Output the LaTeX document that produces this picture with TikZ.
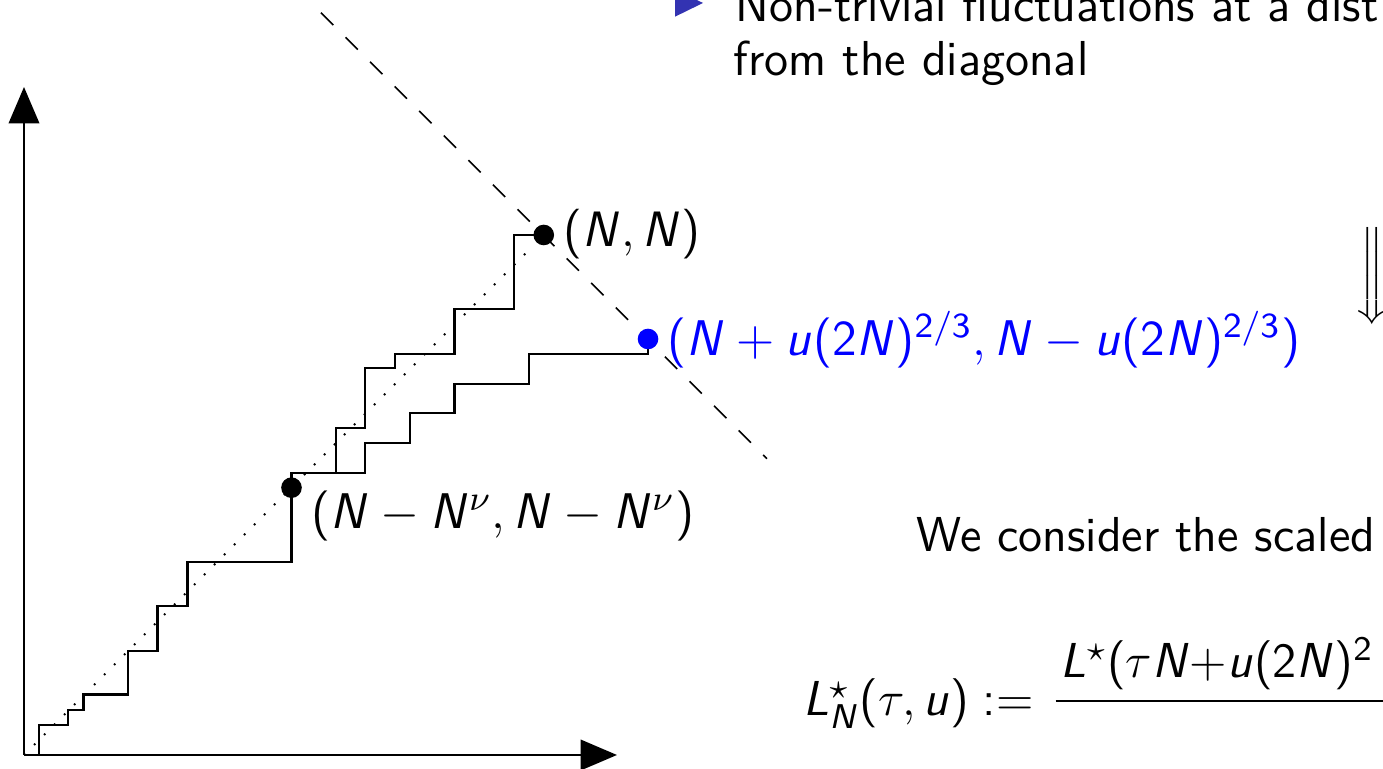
\RequirePackage{fix-cm}
\documentclass[tikz,border=0pt]{standalone}
\usetikzlibrary{arrows.meta}
\DeclareSymbolFont{sfletters}{OT1}{cmss}{m}{sl}
\DeclareSymbolFont{sfops}{OT1}{cmss}{m}{n}
\DeclareMathSymbol{N}{\mathalpha}{sfletters}{`N}
\DeclareMathSymbol{L}{\mathalpha}{sfletters}{`L}
\DeclareMathSymbol{u}{\mathalpha}{sfletters}{`u}
\DeclareMathSymbol{2}{\mathalpha}{sfops}{`2}
\DeclareMathSymbol{3}{\mathalpha}{sfops}{`3}
\DeclareMathSymbol{(}{\mathopen}{sfops}{`(}
\DeclareMathSymbol{)}{\mathclose}{sfops}{`)}
\DeclareMathSymbol{+}{\mathbin}{sfops}{`+}
\DeclareMathSymbol{=}{\mathrel}{sfops}{`=}
\DeclareMathSymbol{:}{\mathrel}{sfops}{`:}
\DeclareMathSymbol{/}{\mathord}{sfops}{`/}
\definecolor{struct}{RGB}{51,51,178}
\begin{document}
\begin{tikzpicture}[x=0.2475pt,y=-0.2475pt,
  stair/.style={line width=0.55pt,line join=miter},
  axis/.style={line width=0.65pt,-{Triangle[length=9pt,width=7.5pt]}},
  dot/.style={circle,fill=black,inner sep=0pt,minimum size=5.1pt},
  lbl/.style={inner sep=0pt,anchor=base west,font=\fontsize{12.3}{15}\selectfont},
  lblwide/.style={lbl,font=\fontsize{12.4}{15}\selectfont},
  body/.style={inner sep=0pt,anchor=base west,font=\fontsize{12.15}{14.6}\selectfont\sffamily}]
\useasboundingbox (0,0) rectangle (1383,769);
\clip (0,0) rectangle (1383,769);
% key points
\coordinate (O) at (24,755);
\coordinate (Ytip) at (24,87);
\coordinate (Xtip) at (617,755);
\coordinate (pNN) at (543.75,235);
\coordinate (pNnu) at (291.5,487.7);
\coordinate (pB) at (648,339);
\coordinate (S) at (38.8,755);
\coordinate (J) at (335.7,472.9);
\coordinate (dA) at (321,12.7);
\coordinate (dB) at (767,458.7);
\coordinate (dE) at (528,251);
% axes
\draw[axis] (O) -- (Ytip);
\draw[axis] (O) -- (Xtip);
% diagonal and anti-diagonal
\draw[line width=0.45pt,dash pattern=on 0.45pt off 3.05pt] (O) -- (dE);
\draw[line width=0.4pt,dash pattern=on 4.3pt off 4.3pt] (dA) -- (dB);
% staircases
\draw[stair] (S) |- (68.3,725) |- (83.5,710) |- (128,694.6) |- (157.6,651)
  |- (187.5,606.4) |- (291.5,561.8) |- (J) |- (365.2,427.9) |- (395,368.4)
  |- (454.5,353.8) |- (514.3,308.9) |- (pNN);
\draw[stair] (J) -- (365.2,472.9) |- (409.8,442.7) |- (454.5,413.4) |- (529,384)
  |- (648,353.8) -- (pB);
% dots
\node[dot] (NN) at (pNN) {};
\node[dot] (Nnu) at (pNnu) {};
\node[dot,fill=blue] (B) at (pB) {};
% labels
\node[lbl] (lNN) at (563,247) {$(N,N)$};
\node[lblwide] (lNnu) at (311,528.5) {$(N-N^{\nu},N-N^{\nu})$};
\node[lblwide,text=blue] (lB) at (667,355.5) {$(N+u(2N)^{2/3},N-u(2N)^{2/3})$};
% text
\fill[struct] (675,-10.7) -- (703,3) -- (675,16.7) -- cycle;
\node[body] (t1) at (735,22) {Non-trivial fluctuations at a dist};
\node[body] (t2) at (733,76) {from the diagonal};
\node[body,anchor=center] (arr) at (1374.5,276) {$\left\Downarrow\vcenter to 20pt{\vfil}\right.$};
\node[body] (t3) at (915.5,552) {We consider the scaled};
\node[body] (f1) at (802.5,716) {$L^{\star}_N(\tau,u):=$};
\node[body] (f2) at (1060,678) {$L^{\star}(\tau N{+}u(2N)^{2}$};
\coordinate (barL) at (1055.6,700.8);
\coordinate (barR) at (1383,700.8);
\draw[line width=0.45pt] (barL) -- (barR);
\end{tikzpicture}
\end{document}
